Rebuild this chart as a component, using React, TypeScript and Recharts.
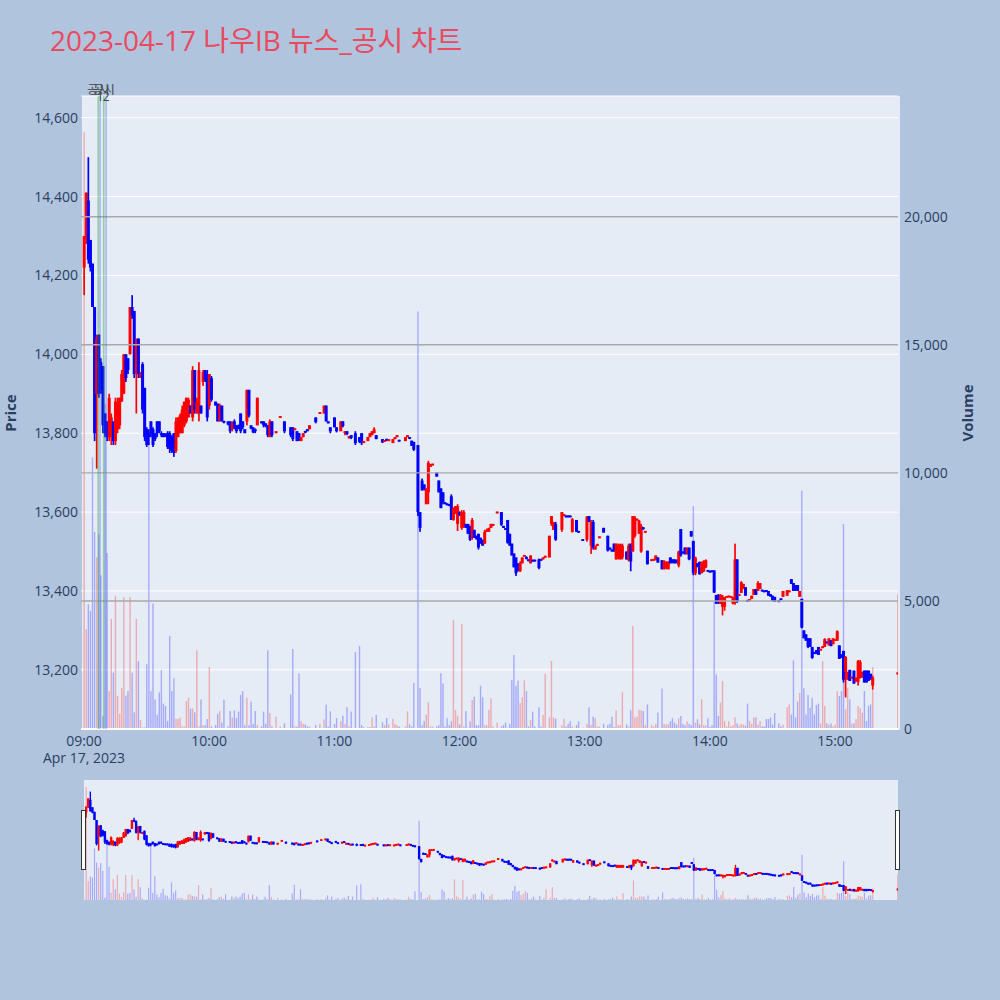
import React from 'react';
import { ComposedChart, Bar, XAxis, YAxis, CartesianGrid, ReferenceLine } from 'recharts';

// [minute after 09:00, open, high, low, close, volume]
type Row = [number, number, number, number, number, number];

const titleText = '2023-04-17 나우IB 뉴스_공시 차트';
const timeTicks = [0, 60, 120, 180, 240, 300, 360];
const timeLabels = ['09:00', '10:00', '11:00', '12:00', '13:00', '14:00', '15:00'];
const dateLabel = 'Apr 17, 2023';
const priceTicks = [13200, 13400, 13600, 13800, 14000, 14200, 14400, 14600];
const volumeTicks = [0, 5000, 10000, 15000, 20000];
const volumeGrid = [5000, 10000, 15000, 20000];
const priceRange: [number, number] = [13050, 14655];
const volumeRange: [number, number] = [0, 24715];
const timeRange: [number, number] = [-1.44, 390.2];
const newsMarks = [6.85, 9.45];
const newsLabel = '공시';
const newsSideMarks = [7.7, 10.6];
const newsNumbers = ['1', '2'];

const openingSwing: Row[] = [
  [0, 14220, 14300, 14150, 14300, 23300],
  [1, 14290, 14410, 14280, 14410, 3900],
  [2, 14390, 14500, 14230, 14240, 4870],
  [3, 14290, 14290, 14210, 14220, 4610],
  [4, 14230, 14230, 14120, 14120, 10600],
  [5, 14120, 14120, 13780, 13800, 7700],
  [6, 13900, 14050, 13710, 14040, 6700],
  [7, 14050, 14050, 13890, 13900, 7600],
  [8, 13980, 13990, 13900, 13910, 6000],
  [9, 13970, 13970, 13800, 13820, 500],
  [10, 13850, 13850, 13790, 13800, 12700],
  [11, 13830, 13830, 13780, 13790, 6870],
  [12, 13790, 13900, 13780, 13890, 1480],
  [13, 13790, 13850, 13770, 13840, 4300],
  [14, 13830, 13830, 13770, 13780, 2200],
  [15, 13780, 13890, 13770, 13880, 5200],
  [16, 13810, 13890, 13800, 13880, 1300],
  [17, 13820, 13890, 13810, 13890, 600],
  [18, 13880, 13960, 13880, 13950, 1600],
  [19, 13900, 14000, 13900, 14000, 5150],
  [20, 14000, 14000, 13930, 13940, 1300],
  [21, 13990, 13990, 13950, 13960, 1480],
  [22, 14000, 14120, 14000, 14120, 5150],
  [23, 14120, 14150, 14090, 14100, 2200],
  [24, 14110, 14110, 13940, 13950, 650],
  [25, 13950, 14040, 13850, 14030, 4300],
  [26, 14040, 14040, 13940, 13950, 2650],
  [27, 13940, 13955, 13940, 13952, 350],
  [28, 13975, 13980, 13850, 13860, 60],
  [29, 13915, 13915, 13780, 13790, 60],
  [30, 13810, 13815, 13765, 13770, 2530],
  [31, 13800, 13810, 13770, 13790, 11200],
  [32, 13830, 13830, 13790, 13800, 1480],
  [33, 13810, 13815, 13765, 13770, 4900],
  [34, 13800, 13800, 13780, 13785, 1150],
  [35, 13830, 13830, 13790, 13800, 560],
  [36, 13830, 13830, 13800, 13805, 1430],
  [37, 13800, 13805, 13790, 13795, 2300],
  [38, 13800, 13800, 13790, 13790, 990],
  [39, 13795, 13800, 13790, 13792, 900],
  [40, 13800, 13805, 13760, 13765, 310],
  [41, 13800, 13805, 13750, 13760, 3630],
  [42, 13790, 13795, 13750, 13755, 1480],
  [43, 13800, 13800, 13740, 13750, 1980],
  [44, 13755, 13840, 13750, 13830, 410],
  [45, 13790, 13840, 13790, 13840, 390],
  [46, 13800, 13850, 13800, 13845, 440],
  [47, 13800, 13870, 13800, 13860, 100],
  [48, 13820, 13880, 13815, 13880, 100],
  [49, 13830, 13890, 13825, 13890, 1090],
  [50, 13840, 13890, 13840, 13885, 1220],
  [51, 13870, 13870, 13850, 13850, 800],
  [52, 13840, 13970, 13830, 13960, 800],
  [53, 13960, 13960, 13850, 13860, 650],
  [54, 13850, 13890, 13850, 13880, 3070],
  [55, 13850, 13980, 13830, 13960, 100],
  [56, 13870, 13870, 13850, 13850, 1150],
  [57, 13930, 13960, 13920, 13955, 150],
  [58, 13960, 13960, 13930, 13935, 150],
  [59, 13950, 13960, 13830, 13840, 390],
  [60, 13870, 13950, 13860, 13950, 2420],
];

const morningDrift: Row[] = [
  [61, 13940, 13945, 13880, 13885, 100],
  [63, 13880, 13880, 13870, 13870, 150],
  [64, 13875, 13875, 13830, 13830, 600],
  [65, 13830, 13875, 13830, 13870, 700],
  [66, 13870, 13870, 13830, 13830, 250],
  [67, 13830, 13830, 13825, 13828, 1150],
  [69, 13830, 13830, 13820, 13822, 100],
  [70, 13830, 13830, 13800, 13805, 700],
  [71, 13810, 13830, 13805, 13825, 450],
  [72, 13830, 13835, 13810, 13815, 730],
  [73, 13820, 13820, 13800, 13805, 430],
  [74, 13820, 13822, 13810, 13812, 680],
  [75, 13850, 13850, 13800, 13805, 1330],
  [76, 13830, 13830, 13810, 13815, 1480],
  [77, 13810, 13810, 13800, 13800, 150],
  [78, 13830, 13910, 13820, 13910, 1220],
  [79, 13910, 13910, 13840, 13845, 150],
  [80, 13820, 13820, 13810, 13812, 1070],
  [81, 13815, 13815, 13800, 13802, 200],
  [82, 13810, 13812, 13800, 13805, 700],
  [83, 13820, 13890, 13820, 13890, 150],
  [85, 13830, 13830, 13825, 13825, 100],
  [86, 13830, 13830, 13815, 13820, 680],
  [87, 13825, 13825, 13815, 13818, 200],
  [88, 13820, 13820, 13790, 13795, 3070],
  [89, 13790, 13835, 13790, 13830, 620],
  [90, 13830, 13830, 13790, 13795, 100],
  [92, 13800, 13805, 13800, 13805, 480],
  [94, 13840, 13842, 13840, 13842, 100],
  [96, 13830, 13830, 13800, 13805, 220],
  [99, 13815, 13815, 13790, 13795, 1350],
  [100, 13815, 13815, 13780, 13785, 3120],
  [101, 13808, 13812, 13808, 13812, 100],
  [102, 13805, 13805, 13780, 13780, 100],
  [103, 13800, 13800, 13780, 13782, 2170],
  [104, 13780, 13790, 13780, 13790, 300],
  [105, 13790, 13800, 13790, 13800, 200],
  [106, 13805, 13805, 13800, 13802, 180],
  [107, 13810, 13810, 13805, 13805, 100],
  [108, 13810, 13820, 13810, 13820, 100],
  [111, 13840, 13840, 13825, 13828, 150],
  [113, 13850, 13852, 13850, 13852, 200],
  [115, 13850, 13870, 13850, 13870, 370],
  [116, 13870, 13870, 13830, 13830, 950],
  [117, 13830, 13830, 13825, 13825, 100],
  [118, 13815, 13815, 13800, 13805, 690],
  [120, 13840, 13840, 13815, 13815, 200],
  [121, 13815, 13815, 13802, 13805, 430],
  [123, 13805, 13830, 13805, 13830, 300],
  [124, 13830, 13830, 13815, 13818, 520],
  [125, 13800, 13805, 13795, 13805, 200],
  [126, 13805, 13805, 13795, 13798, 850],
  [127, 13790, 13792, 13786, 13790, 100],
  [128, 13795, 13795, 13785, 13788, 680],
  [130, 13800, 13805, 13770, 13775, 3000],
  [132, 13790, 13790, 13775, 13778, 3240],
  [133, 13800, 13800, 13770, 13775, 150],
  [134, 13775, 13780, 13775, 13780, 80],
  [136, 13780, 13790, 13780, 13790, 80],
  [137, 13790, 13800, 13790, 13800, 80],
  [138, 13795, 13805, 13795, 13805, 460],
  [139, 13800, 13815, 13800, 13810, 100],
  [140, 13795, 13795, 13785, 13785, 550],
  [143, 13785, 13785, 13775, 13777, 260],
  [144, 13778, 13782, 13778, 13782, 150],
  [145, 13785, 13785, 13780, 13782, 430],
  [146, 13780, 13785, 13780, 13785, 180],
  [148, 13775, 13785, 13775, 13785, 400],
  [149, 13785, 13790, 13785, 13790, 200],
  [150, 13790, 13795, 13790, 13795, 150],
  [151, 13782, 13782, 13780, 13780, 100],
  [154, 13780, 13790, 13780, 13790, 100],
  [155, 13790, 13795, 13790, 13795, 690],
  [156, 13790, 13790, 13785, 13786, 180],
  [157, 13781, 13781, 13768, 13768, 100],
  [158, 13778, 13778, 13755, 13758, 1800],
];

const middayDrop: Row[] = [
  [160, 13770, 13770, 13590, 13600, 16300],
  [161, 13600, 13600, 13550, 13560, 1600],
  [162, 13680, 13685, 13655, 13655, 150],
  [163, 13670, 13670, 13655, 13658, 310],
  [164, 13620, 13660, 13620, 13660, 560],
  [165, 13650, 13730, 13620, 13725, 1040],
  [166, 13715, 13722, 13715, 13720, 100],
  [167, 13720, 13722, 13718, 13721, 100],
  [169, 13700, 13700, 13690, 13690, 100],
  [170, 13680, 13680, 13650, 13650, 150],
  [171, 13660, 13660, 13610, 13610, 2180],
  [172, 13650, 13650, 13620, 13625, 1780],
  [173, 13625, 13625, 13620, 13620, 100],
  [174, 13620, 13622, 13618, 13619, 420],
  [175, 13620, 13620, 13615, 13616, 150],
  [176, 13640, 13645, 13580, 13580, 300],
  [177, 13580, 13612, 13578, 13610, 4260],
  [178, 13595, 13615, 13595, 13615, 740],
  [179, 13570, 13620, 13552, 13615, 520],
  [180, 13600, 13602, 13590, 13592, 180],
  [181, 13560, 13605, 13555, 13600, 4090],
  [182, 13565, 13605, 13560, 13600, 100],
  [183, 13570, 13570, 13560, 13560, 700],
  [184, 13570, 13570, 13545, 13545, 50],
  [185, 13565, 13565, 13527, 13530, 300],
  [186, 13535, 13585, 13530, 13580, 1130],
  [187, 13555, 13555, 13535, 13535, 1260],
  [188, 13540, 13540, 13530, 13532, 150],
  [189, 13545, 13545, 13505, 13510, 150],
  [190, 13535, 13535, 13520, 13520, 1690],
  [191, 13530, 13530, 13515, 13515, 1240],
  [192, 13520, 13555, 13520, 13550, 150],
  [193, 13550, 13558, 13550, 13555, 150],
  [194, 13550, 13560, 13550, 13560, 750],
  [195, 13560, 13570, 13560, 13570, 1200],
  [196, 13565, 13570, 13565, 13570, 100],
  [198, 13598, 13600, 13598, 13600, 250],
  [200, 13600, 13600, 13565, 13568, 100],
  [201, 13565, 13565, 13560, 13560, 150],
  [202, 13558, 13558, 13556, 13556, 250],
  [203, 13580, 13580, 13520, 13522, 50],
  [204, 13545, 13545, 13515, 13515, 200],
  [205, 13520, 13520, 13490, 13490, 1910],
  [206, 13495, 13495, 13460, 13460, 2890],
  [207, 13485, 13485, 13438, 13445, 1690],
  [208, 13470, 13470, 13450, 13450, 1890],
  [209, 13450, 13475, 13448, 13470, 1010],
  [210, 13470, 13485, 13470, 13485, 1240],
  [211, 13488, 13490, 13488, 13490, 1900],
  [212, 13485, 13488, 13480, 13482, 1480],
  [213, 13480, 13480, 13475, 13476, 100],
  [214, 13470, 13490, 13470, 13490, 350],
  [215, 13478, 13478, 13476, 13476, 680],
  [216, 13478, 13478, 13476, 13476, 100],
  [218, 13480, 13482, 13455, 13458, 850],
  [219, 13480, 13480, 13478, 13478, 100],
  [220, 13480, 13485, 13480, 13485, 550],
  [221, 13485, 13490, 13485, 13488, 2160],
  [223, 13485, 13540, 13485, 13540, 450],
  [224, 13570, 13590, 13565, 13590, 2660],
  [225, 13555, 13575, 13555, 13575, 450],
  [226, 13570, 13575, 13527, 13530, 400],
  [229, 13555, 13600, 13550, 13600, 150],
  [230, 13590, 13595, 13590, 13595, 400],
  [231, 13590, 13590, 13588, 13588, 100],
  [232, 13590, 13590, 13588, 13588, 200],
  [233, 13590, 13590, 13588, 13588, 300],
  [234, 13550, 13585, 13548, 13582, 100],
  [236, 13580, 13580, 13550, 13550, 150],
  [237, 13552, 13552, 13548, 13548, 300],
  [239, 13530, 13530, 13528, 13528, 50],
  [241, 13530, 13590, 13525, 13588, 200],
  [242, 13590, 13590, 13575, 13575, 850],
  [243, 13515, 13580, 13494, 13575, 150],
  [244, 13575, 13580, 13505, 13510, 480],
  [245, 13505, 13515, 13505, 13515, 420],
  [246, 13515, 13520, 13515, 13518, 100],
  [247, 13535, 13537, 13535, 13537, 100],
  [249, 13560, 13560, 13548, 13548, 200],
  [251, 13540, 13540, 13500, 13502, 150],
  [252, 13510, 13510, 13505, 13505, 200],
  [253, 13505, 13505, 13500, 13500, 480],
  [254, 13520, 13520, 13500, 13500, 80],
  [255, 13480, 13520, 13480, 13520, 730],
  [256, 13485, 13520, 13480, 13515, 150],
  [257, 13480, 13520, 13480, 13518, 150],
  [258, 13485, 13520, 13480, 13515, 1440],
  [260, 13500, 13500, 13480, 13480, 180],
  [261, 13478, 13520, 13475, 13515, 100],
  [262, 13520, 13520, 13450, 13475, 730],
  [263, 13500, 13590, 13500, 13590, 4020],
  [264, 13540, 13590, 13535, 13585, 450],
  [265, 13580, 13582, 13578, 13582, 480],
];

const afternoonSlide: Row[] = [
  [266, 13545, 13580, 13545, 13578, 750],
  [267, 13500, 13570, 13497, 13565, 730],
  [268, 13560, 13562, 13555, 13558, 700],
  [269, 13550, 13552, 13548, 13550, 150],
  [270, 13502, 13502, 13467, 13468, 960],
  [272, 13478, 13480, 13476, 13478, 150],
  [273, 13478, 13480, 13478, 13480, 100],
  [274, 13478, 13490, 13478, 13490, 200],
  [275, 13485, 13485, 13472, 13472, 640],
  [277, 13478, 13478, 13455, 13455, 1580],
  [278, 13455, 13477, 13455, 13477, 200],
  [279, 13460, 13475, 13455, 13472, 180],
  [280, 13455, 13475, 13455, 13475, 180],
  [281, 13485, 13485, 13470, 13470, 300],
  [282, 13480, 13480, 13470, 13472, 420],
  [283, 13480, 13480, 13470, 13470, 250],
  [284, 13478, 13480, 13470, 13472, 180],
  [285, 13465, 13502, 13460, 13500, 420],
  [286, 13557, 13557, 13487, 13490, 510],
  [287, 13500, 13500, 13495, 13495, 200],
  [288, 13510, 13510, 13493, 13493, 150],
  [289, 13493, 13510, 13493, 13510, 300],
  [290, 13510, 13510, 13478, 13480, 200],
  [291, 13552, 13552, 13538, 13538, 150],
  [292, 13527, 13527, 13440, 13445, 8700],
  [293, 13445, 13487, 13440, 13485, 250],
  [294, 13470, 13470, 13460, 13462, 380],
  [295, 13474, 13474, 13442, 13442, 180],
  [296, 13445, 13475, 13445, 13472, 1160],
  [297, 13450, 13478, 13448, 13475, 150],
  [298, 13460, 13480, 13458, 13478, 150],
  [299, 13452, 13452, 13450, 13450, 420],
  [300, 13450, 13450, 13448, 13448, 80],
  [301, 13452, 13452, 13448, 13448, 150],
  [302, 13452, 13452, 13395, 13396, 5000],
  [303, 13390, 13390, 13367, 13368, 2130],
  [304, 13390, 13392, 13367, 13370, 510],
  [305, 13368, 13392, 13367, 13390, 1030],
  [306, 13360, 13390, 13338, 13385, 1870],
  [307, 13360, 13385, 13350, 13383, 310],
  [308, 13384, 13386, 13384, 13386, 100],
  [309, 13385, 13387, 13385, 13387, 310],
  [310, 13384, 13386, 13384, 13386, 100],
  [311, 13368, 13385, 13366, 13385, 150],
  [312, 13370, 13520, 13365, 13480, 460],
  [313, 13480, 13480, 13370, 13372, 220],
  [314, 13388, 13392, 13388, 13392, 130],
  [315, 13395, 13425, 13395, 13422, 200],
  [316, 13408, 13418, 13405, 13418, 170],
  [317, 13410, 13410, 13388, 13388, 130],
  [318, 13376, 13376, 13374, 13374, 990],
  [319, 13376, 13378, 13376, 13378, 310],
  [320, 13380, 13388, 13380, 13388, 200],
  [321, 13390, 13405, 13390, 13405, 450],
  [322, 13405, 13405, 13390, 13390, 450],
  [323, 13400, 13425, 13400, 13420, 170],
  [324, 13405, 13420, 13405, 13420, 310],
  [325, 13402, 13402, 13400, 13400, 100],
  [326, 13400, 13400, 13398, 13398, 100],
  [327, 13402, 13402, 13398, 13398, 390],
  [328, 13400, 13400, 13388, 13388, 390],
  [329, 13392, 13392, 13385, 13386, 450],
  [330, 13388, 13388, 13375, 13375, 170],
  [331, 13385, 13385, 13372, 13372, 620],
  [333, 13376, 13376, 13372, 13372, 220],
  [334, 13380, 13380, 13378, 13378, 100],
  [335, 13385, 13400, 13385, 13400, 170],
  [337, 13388, 13402, 13388, 13402, 860],
  [338, 13398, 13400, 13398, 13400, 960],
  [339, 13430, 13430, 13418, 13418, 570],
  [340, 13420, 13420, 13400, 13400, 2680],
  [341, 13415, 13415, 13400, 13402, 450],
  [342, 13415, 13415, 13400, 13400, 1070],
  [343, 13385, 13400, 13385, 13400, 1410],
  [344, 13380, 13380, 13305, 13307, 9300],
  [345, 13300, 13300, 13280, 13280, 1590],
  [346, 13290, 13290, 13274, 13274, 570],
  [347, 13280, 13280, 13255, 13258, 1330],
  [348, 13280, 13280, 13258, 13258, 830],
  [349, 13258, 13258, 13228, 13230, 1220],
  [350, 13245, 13245, 13240, 13240, 570],
  [351, 13250, 13250, 13240, 13242, 940],
  [352, 13258, 13258, 13238, 13238, 990],
  [353, 13250, 13252, 13250, 13252, 220],
  [354, 13255, 13260, 13255, 13260, 2650],
  [355, 13258, 13280, 13258, 13278, 900],
  [356, 13270, 13272, 13268, 13269, 220],
  [357, 13262, 13280, 13262, 13280, 170],
  [358, 13275, 13275, 13260, 13260, 220],
  [359, 13265, 13280, 13265, 13280, 100],
  [360, 13275, 13277, 13275, 13277, 170],
  [361, 13274, 13300, 13274, 13298, 1480],
  [362, 13262, 13262, 13228, 13228, 1290],
  [363, 13240, 13240, 13230, 13232, 1480],
  [364, 13248, 13248, 13168, 13175, 8000],
  [365, 13195, 13235, 13130, 13232, 770],
  [366, 13175, 13195, 13175, 13195, 1615],
  [367, 13200, 13200, 13172, 13172, 1160],
  [368, 13180, 13182, 13178, 13180, 220],
  [369, 13198, 13198, 13165, 13165, 220],
  [370, 13170, 13180, 13170, 13180, 380],
  [371, 13170, 13225, 13160, 13222, 900],
  [372, 13180, 13225, 13178, 13220, 810],
  [373, 13180, 13195, 13180, 13195, 640],
  [374, 13198, 13198, 13168, 13168, 1480],
  [375, 13198, 13198, 13168, 13168, 310],
  [376, 13198, 13198, 13172, 13172, 900],
  [377, 13190, 13190, 13175, 13176, 960],
  [378, 13160, 13185, 13150, 13180, 2420],
  [390, 13190, 13192, 13188, 13192, 5260],
];

const rows = [...openingSwing, ...morningDrift, ...middayDrop, ...afternoonSlide].map(
  ([m, o, h, l, c, v]) => ({ m, o, h: Math.max(h, o, c), l: Math.min(l, o, c), c, v })
);

const RED = '#FF0000';
const BLUE = '#0000FF';
const RED_VOL = 'rgba(255,0,0,0.28)';
const BLUE_VOL = 'rgba(0,0,255,0.28)';
const TXT = '#2a3f5f';
const FONT = '"Open Sans", "Noto Sans CJK KR", sans-serif';

const candleRange = (d: any) => [d.l, d.h];

const makeCandleShape = (bodyW: number, wickW: number) => (props: any) => {
  const { x, y, width, height, payload } = props;
  if (x == null || y == null || !payload) return <g />;
  const cx = x + (width || 0) / 2;
  const hh = height || 0;
  const top = Math.min(y, y + hh);
  const bottom = Math.max(y, y + hh);
  const { o, h, l, c } = payload;
  const color = c >= o ? RED : BLUE;
  let yo: number;
  let yc: number;
  if (h > l) {
    const k = (bottom - top) / (h - l);
    yo = top + (h - o) * k;
    yc = top + (h - c) * k;
  } else {
    yo = yc = (top + bottom) / 2;
  }
  let bTop = Math.min(yo, yc);
  let bH = Math.abs(yc - yo);
  const minH = 1.8;
  if (bH < minH) {
    const mid = (yo + yc) / 2;
    bTop = mid - minH / 2;
    bH = minH;
  }
  const wTop = Math.min(top, bTop);
  const wBot = Math.max(bottom, bTop + bH);
  return (
    <g>
      <rect x={cx - wickW / 2} y={wTop} width={wickW} height={wBot - wTop} fill={color} />
      <rect x={cx - bodyW / 2} y={bTop} width={bodyW} height={bH} fill={color} />
    </g>
  );
};

const makeVolShape = (w: number) => (props: any) => {
  const { x, y, width, height, payload } = props;
  if (x == null || y == null || !payload) return <g />;
  const cx = x + (width || 0) / 2;
  const hh = height || 0;
  const top = Math.min(y, y + hh);
  const color = payload.c >= payload.o ? RED_VOL : BLUE_VOL;
  return <rect x={cx - w / 2} y={top} width={w} height={Math.abs(hh)} fill={color} />;
};

const mainCandle = makeCandleShape(3.0, 1.7);
const mainVol = makeVolShape(1.4);
const miniCandle = makeCandleShape(2.4, 1.4);
const miniVol = makeVolShape(1.2);

const fmt = (v: number) => v.toLocaleString('en-US');

const TimeTick = (props: any) => {
  const { x, y, payload } = props;
  const i = timeTicks.indexOf(payload.value);
  return (
    <g>
      <text x={x} y={y} dy={10} textAnchor="middle" fill={TXT} fontSize={14} fontFamily={FONT}>
        {timeLabels[i]}
      </text>
      {i === 0 ? (
        <text x={x} y={y} dy={27} textAnchor="middle" fill={TXT} fontSize={14} fontFamily={FONT}>
          {dateLabel}
        </text>
      ) : null}
    </g>
  );
};

const newsTextLabel = (p: any) => {
  const vb = p.viewBox || {};
  return (
    <text x={vb.x} y={(vb.y || 0) - 2} textAnchor="middle" fill="#444" fontSize={12} fontFamily={FONT}>
      {newsLabel}
    </text>
  );
};

const numberLabel = (txt: string) => (p: any) => {
  const vb = p.viewBox || {};
  return (
    <text x={vb.x} y={(vb.y || 0) + 5} textAnchor="middle" fill="#444" fontSize={12} fontFamily={FONT}>
      {txt}
    </text>
  );
};

const tickStyle = { fill: TXT, fontSize: 14, fontFamily: FONT };

export default function App() {
  return (
    <div
      style={{
        position: 'absolute',
        left: 0,
        top: 0,
        width: 1000,
        height: 1000,
        background: '#B0C4DE',
        overflow: 'hidden',
        fontFamily: FONT,
      }}
    >
      <div style={{ position: 'absolute', left: 82, top: 96, width: 818, height: 634, background: '#E5ECF6' }} />
      <div style={{ position: 'absolute', left: 84, top: 780, width: 814, height: 120, background: '#E5ECF6' }} />

      <div style={{ position: 'absolute', left: 0, top: 0 }}>
        <ComposedChart width={1000} height={790} data={rows} margin={{ top: 96, right: 0, bottom: 31, left: 0 }}>
          <XAxis
            xAxisId="c"
            dataKey="m"
            type="number"
            domain={timeRange}
            allowDataOverflow
            ticks={timeTicks}
            interval={0}
            tick={<TimeTick />}
            tickLine={false}
            axisLine={false}
            tickSize={0}
            tickMargin={7}
            height={30}
          />
          <XAxis xAxisId="v" dataKey="m" type="number" domain={timeRange} allowDataOverflow hide />
          <YAxis
            yAxisId="price"
            domain={priceRange}
            allowDataOverflow
            ticks={priceTicks}
            interval={0}
            width={81}
            tickLine={false}
            axisLine={false}
            tickSize={0}
            tickMargin={3}
            tickFormatter={fmt}
            tick={tickStyle}
          />
          <YAxis
            yAxisId="vol"
            orientation="right"
            domain={volumeRange}
            allowDataOverflow
            ticks={volumeTicks}
            interval={0}
            width={102}
            tickLine={false}
            axisLine={false}
            tickSize={0}
            tickMargin={6}
            tickFormatter={fmt}
            tick={tickStyle}
          />
          <CartesianGrid xAxisId="c" yAxisId="price" vertical={false} stroke="#FFFFFF" strokeWidth={1} fill="none" />
          <ReferenceLine xAxisId="c" yAxisId="vol" y={0} stroke="#FFFFFF" strokeWidth={2} />
          {volumeGrid.map((v) => (
            <ReferenceLine key={'g' + v} xAxisId="c" yAxisId="vol" y={v} stroke="#A9A9A9" strokeWidth={1.4} />
          ))}
          <Bar xAxisId="v" yAxisId="vol" dataKey="v" shape={mainVol} isAnimationActive={false} />
          <Bar xAxisId="c" yAxisId="price" dataKey={candleRange} shape={mainCandle} isAnimationActive={false} />
          {newsMarks.map((m, i) => (
            <ReferenceLine
              key={'n' + i}
              xAxisId="c"
              yAxisId="price"
              x={m}
              stroke="rgba(40,160,40,0.4)"
              strokeWidth={1.8}
              label={newsTextLabel}
            />
          ))}
          {newsSideMarks.map((m, i) => (
            <ReferenceLine
              key={'s' + i}
              xAxisId="c"
              yAxisId="price"
              x={m}
              stroke="rgba(60,80,255,0.45)"
              strokeWidth={1.2}
              label={numberLabel(newsNumbers[i])}
            />
          ))}
        </ComposedChart>
      </div>

      <div style={{ position: 'absolute', left: 0, top: 0 }}>
        <ComposedChart width={1000} height={900} data={rows} margin={{ top: 780, right: 102, bottom: 0, left: 83 }}>
          <XAxis xAxisId="c" dataKey="m" type="number" domain={timeRange} allowDataOverflow hide />
          <XAxis xAxisId="v" dataKey="m" type="number" domain={timeRange} allowDataOverflow hide />
          <YAxis yAxisId="price" domain={priceRange} allowDataOverflow hide />
          <YAxis yAxisId="vol" domain={volumeRange} allowDataOverflow hide />
          <Bar xAxisId="v" yAxisId="vol" dataKey="v" shape={miniVol} isAnimationActive={false} />
          <Bar xAxisId="c" yAxisId="price" dataKey={candleRange} shape={miniCandle} isAnimationActive={false} />
        </ComposedChart>
      </div>

      <div
        style={{
          position: 'absolute',
          left: 81,
          top: 810,
          width: 5,
          height: 60,
          boxSizing: 'border-box',
          background: '#FFFFFF',
          border: '1px solid #333',
        }}
      />
      <div
        style={{
          position: 'absolute',
          left: 895,
          top: 810,
          width: 5,
          height: 60,
          boxSizing: 'border-box',
          background: '#FFFFFF',
          border: '1px solid #333',
        }}
      />

      <svg width={1000} height={1000} style={{ position: 'absolute', left: 0, top: 0, pointerEvents: 'none' }}>
        <text x={50} y={51} fill="#EA4A5E" fontSize={28} fontFamily={FONT}>
          {titleText}
        </text>
        <text
          x={10}
          y={413}
          transform="rotate(-90 10 413)"
          textAnchor="middle"
          dominantBaseline="central"
          fill={TXT}
          fontSize={15}
          fontWeight="bold"
          fontFamily={FONT}
        >
          Price
        </text>
        <text
          x={967}
          y={413}
          transform="rotate(-90 967 413)"
          textAnchor="middle"
          dominantBaseline="central"
          fill={TXT}
          fontSize={15}
          fontWeight="bold"
          fontFamily={FONT}
        >
          Volume
        </text>
      </svg>
    </div>
  );
}
